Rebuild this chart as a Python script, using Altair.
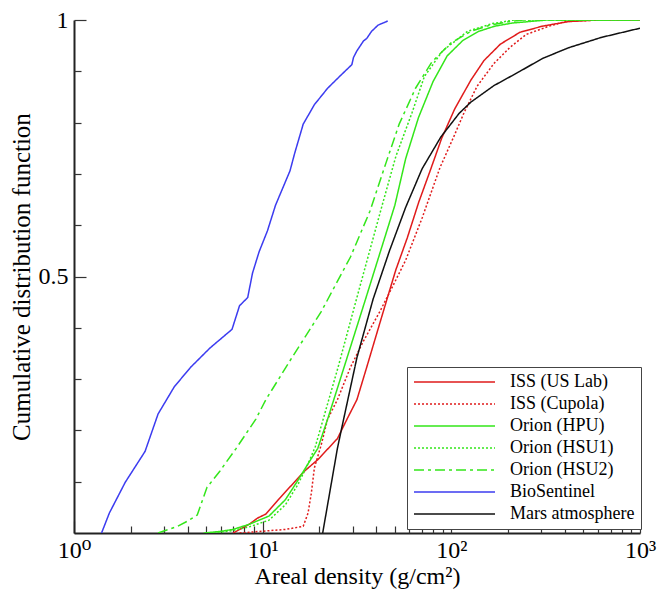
import altair as alt
import pandas as pd

# ---------------- data ----------------
series_names = ["ISS (US Lab)", "ISS (Cupola)", "Orion (HPU)", "Orion (HSU1)",
                "Orion (HSU2)", "BioSentinel", "Mars atmosphere"]
series_colors = ["#e01b1b", "#e01b1b", "#33e61a", "#33e61a", "#33e61a", "#3c3cf0", "#111111"]
series_dashes = [[1, 0], [2, 2], [1, 0], [2, 2], [10, 4, 3, 4], [1, 0], [1, 0]]

iss_lab_x = [6.97, 8.49, 9.39, 10.4, 12.1, 16.7, 19.6, 24.9, 28.0, 31.6, 35.6, 40.1, 45.1, 50.8,
             58.5, 67.2, 77.2, 88.8, 104, 127, 149, 182, 231, 304, 419, 600, 1000]
iss_lab_y = [0, 0.017, 0.029, 0.037, 0.065, 0.121, 0.143, 0.184, 0.222, 0.260, 0.323, 0.387, 0.450,
             0.513, 0.576, 0.645, 0.706, 0.769, 0.826, 0.883, 0.921, 0.953, 0.976, 0.988, 0.997, 1.0, 1.0]

iss_cupola_x = [7.54, 10.4, 13.2, 16.4, 17.4, 18.1, 18.8, 20.4, 22.1, 24.9, 29.2, 34.2, 41.7, 48.9,
                57.3, 70, 87, 104, 117, 137, 168, 205, 250, 330, 402, 600, 1000]
iss_cupola_y = [0, 0.004, 0.007, 0.013, 0.039, 0.077, 0.127, 0.171, 0.222, 0.260, 0.323, 0.374, 0.431,
                0.481, 0.532, 0.614, 0.712, 0.776, 0.820, 0.871, 0.915, 0.947, 0.972, 0.988, 0.997, 1.0, 1.0]

orion_hpu_x = [4.87, 5.94, 6.97, 8.49, 10.8, 13.2, 15.4, 17.4, 19.6, 22.1, 27.0, 34.7, 50.2, 57.3,
               67, 80, 95, 115, 140, 170, 210, 320, 1000]
orion_hpu_y = [0, 0.003, 0.007, 0.017, 0.033, 0.065, 0.103, 0.135, 0.165, 0.222, 0.323, 0.45, 0.639,
               0.73, 0.81, 0.88, 0.93, 0.96, 0.978, 0.988, 0.994, 1.0, 1.0]

orion_hsu1_x = [5.5, 6.97, 8.49, 10.8, 13.2, 15.4, 17.4, 19.0, 25.1, 31.1, 43.0, 50.8, 62, 72, 90,
                122, 165, 215, 1000]
orion_hsu1_y = [0, 0.005, 0.012, 0.025, 0.055, 0.095, 0.135, 0.168, 0.323, 0.45, 0.639, 0.734, 0.82,
                0.89, 0.94, 0.978, 0.993, 1.0, 1.0]

orion_hsu2_x = [2.79, 3.54, 3.99, 4.50, 5.07, 5.94, 7.24, 9.2, 10.4, 14.3, 20.4, 29.2, 37.0, 45.1,
                52.9, 64.6, 78.8, 100, 127, 161, 205, 240, 1000]
orion_hsu2_y = [0, 0.013, 0.023, 0.035, 0.089, 0.121, 0.165, 0.222, 0.260, 0.342, 0.431, 0.538, 0.627,
                0.722, 0.797, 0.867, 0.918, 0.956, 0.978, 0.990, 0.997, 1.0, 1.0]

biosentinel_x = [1.40, 1.54, 1.87, 2.38, 2.79, 3.40, 4.15, 5.27, 6.88, 7.54, 8.33, 8.84, 9.57, 10.6,
                 11.7, 13.96, 14.8, 16.4, 18.8, 22.1, 25.9, 29.7, 30.3, 31.6, 34.2, 35.6, 37.8, 40.9, 46.0]
biosentinel_y = [0, 0.039, 0.099, 0.159, 0.232, 0.285, 0.323, 0.361, 0.397, 0.443, 0.459, 0.507, 0.548,
                 0.589, 0.639, 0.706, 0.741, 0.797, 0.835, 0.867, 0.892, 0.913, 0.927, 0.940, 0.959,
                 0.964, 0.978, 0.990, 0.998]

mars_x = [20.8, 24.9, 26.4, 31.6, 38.5, 47, 57.3, 70, 88, 110, 127, 168, 231, 304, 419, 623, 1000]
mars_y = [0, 0.165, 0.209, 0.342, 0.456, 0.55, 0.635, 0.71, 0.772, 0.818, 0.84, 0.872, 0.9, 0.925,
          0.946, 0.966, 0.984]

x_major = [1, 10, 100, 1000]
x_major_labels = ["10⁰", "10¹", "10²", "10³"]
x_ticks = [1, 2, 3, 4, 5, 6, 7, 8, 9, 10, 20, 30, 40, 50, 60, 70, 80, 90,
           100, 200, 300, 400, 500, 600, 700, 800, 900, 1000]
y_major = [0.5, 1]
y_major_labels = ["0.5", "1"]
y_ticks = [0.1, 0.2, 0.3, 0.4, 0.5, 0.6, 0.7, 0.8, 0.9, 1.0]

all_x = [iss_lab_x, iss_cupola_x, orion_hpu_x, orion_hsu1_x, orion_hsu2_x, biosentinel_x, mars_x]
all_y = [iss_lab_y, iss_cupola_y, orion_hpu_y, orion_hsu1_y, orion_hsu2_y, biosentinel_y, mars_y]

rows = []
for name, xs, ys in zip(series_names, all_x, all_y):
    for xv, yv in zip(xs, ys):
        rows.append({"series": name, "x": xv, "y": yv})
df = pd.DataFrame(rows)

# ---------------- chart ----------------
W, H = 566, 513
FONT = "'Liberation Serif', 'Times New Roman', 'DejaVu Serif', serif"

xscale = alt.Scale(type="log", domain=[1, 1000], nice=False)
yscale = alt.Scale(domain=[0, 1], nice=False, zero=False)

x_label_expr = " : ".join(
    f"datum.value == {v} ? '{t}'" for v, t in zip(x_major, x_major_labels)) + " : ''"
y_label_expr = " : ".join(
    f"datum.value == {v} ? '{t}'" for v, t in zip(y_major, y_major_labels)) + " : ''"
x_major_test = " || ".join(f"datum.value == {v}" for v in x_major)
y_major_test = " || ".join(f"datum.value == {v}" for v in y_major)

legend = alt.Legend(
    title=None, orient="none", legendX=333, legendY=347,
    symbolType="stroke", symbolSize=6561, symbolStrokeWidth=1.5, clipHeight=18,
    labelFont=FONT, labelFontSize=18, labelColor="black", labelOffset=14, labelLimit=300,
    rowPadding=4, padding=6, strokeColor="#444444", fillColor="white", cornerRadius=0,
)

lines = alt.Chart(df).mark_line(strokeWidth=1.5, clip=True).encode(
    x=alt.X("x:Q", scale=xscale, axis=alt.Axis(
        orient="bottom", values=x_major, labelExpr=x_label_expr, ticks=False, tickSize=0,
        grid=False, domain=True, domainColor="#222222", domainWidth=2,
        labelFont=FONT, labelFontSize=24, labelColor="black", labelPadding=5, labelFlush=False,
        title="Areal density (g/cm²)", titleFont=FONT, titleFontSize=24, titleFontWeight="normal",
        titleColor="black", titlePadding=2)),
    y=alt.Y("y:Q", scale=yscale, axis=alt.Axis(
        orient="left", values=y_major, labelExpr=y_label_expr, ticks=False, tickSize=0,
        grid=False, domain=True, domainColor="#222222", domainWidth=2,
        labelFont=FONT, labelFontSize=24, labelColor="black", labelPadding=6, labelFlush=False,
        title="Cumulative distribution function", titleFont=FONT, titleFontSize=25,
        titleFontWeight="normal", titleColor="black", titleX=-53, titleY=H / 2,
        titleAngle=270, titleBaseline="middle", titleAlign="center")),
    color=alt.Color("series:N", scale=alt.Scale(domain=series_names, range=series_colors), legend=legend),
    strokeDash=alt.StrokeDash("series:N", scale=alt.Scale(domain=series_names, range=series_dashes),
                              legend=legend),
)

ticks_layer = alt.Chart(df).mark_point(opacity=0).encode(
    x=alt.X("x:Q", scale=xscale, axis=alt.Axis(
        orient="top", offset=-H, values=x_ticks, labels=False, domain=False, grid=False, title=None,
        ticks=True, tickColor="#333333", tickWidth=1.2,
        tickSize={"condition": {"test": x_major_test, "value": 12}, "value": 7})),
    y=alt.Y("y:Q", scale=yscale, axis=alt.Axis(
        orient="right", offset=-W, values=y_ticks, labels=False, domain=False, grid=False, title=None,
        ticks=True, tickColor="#333333", tickWidth=1.2,
        tickSize={"condition": {"test": y_major_test, "value": 12}, "value": 7})),
)

chart = alt.layer(lines, ticks_layer).resolve_axis(
    x="independent", y="independent"
).properties(
    width=W, height=H,
    autosize=alt.AutoSizeParams(type="none"),
    padding={"left": 66, "top": 12, "right": 18, "bottom": 58},
).configure_view(stroke=None)

chart.save("out.html", embed_options={"renderer": "svg", "actions": False})
